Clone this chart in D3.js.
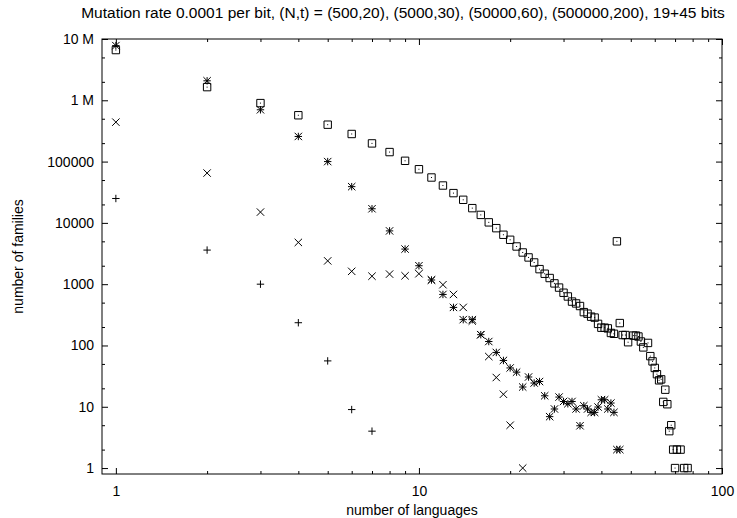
<!DOCTYPE html>
<html>
<head>
<meta charset="utf-8">
<script src="https://cdn.jsdelivr.net/npm/d3@7"></script>
<style>
  html, body { margin: 0; padding: 0; background: #fff; }
  svg text { font-family: "Liberation Sans", Arial, Helvetica, sans-serif; fill: #000; }
</style>
</head>
<body>
<svg id="chart" width="737" height="518"></svg>
<script>
// ---- data ----
const titleText = "Mutation rate 0.0001 per bit, (N,t) = (500,20), (5000,30), (50000,60), (500000,200), 19+45 bits";
const xLabel = "number of languages";
const yLabel = "number of families";

// N = 500 (plus)
const langsA = [1, 2, 3, 4, 5, 6, 7];
const famsA  = [25000, 3600, 1000, 235, 56, 9, 4];

// N = 5000 (cross)
const langsB = [1, 2, 3, 4, 5, 6, 7, 8, 9, 10, 11, 12, 13, 14, 15, 16, 17, 18, 19, 20, 22];
const famsB  = [440000, 65000, 15000, 4800, 2400, 1620, 1350, 1460, 1370, 1480, 1170, 980, 680, 418, 250, 150, 66, 30, 16, 5, 1];

// N = 50000 (star)
const langsC = [1, 2, 3, 4, 5, 6, 7, 8, 9, 10, 11, 12, 13, 14, 15, 16, 17, 18, 19, 20,
                21, 22, 23, 24, 25, 26, 27, 28, 29, 30, 31, 32, 33, 34, 35, 36, 37, 38, 39, 40,
                41, 42, 43, 44, 45, 46];
const famsC  = [7800000, 2080000, 700000, 257000, 100000, 39000, 17000, 7400, 3740, 2000, 1170, 680, 418, 264, 264, 150, 116, 77, 57, 43,
                36.7, 21, 30.6, 24.4, 25.8, 15.1, 6.9, 9.2, 14.4, 12.2, 11.2, 12.2, 9.2, 4.9, 10.4, 9.2, 8.1, 8.1, 9.9, 13,
                13, 9.2, 11.5, 8.1, 2, 2];

// N = 500000 (box)
const langsD = [1, 2, 3, 4, 5, 6, 7, 8, 9, 10, 11, 12, 13, 14, 15, 16, 17, 18, 19, 20,
                21, 22, 23, 24, 25, 26, 27, 28, 29, 30, 31, 32, 33, 34, 35, 36, 37, 38, 39, 40,
                41, 42, 43, 44, 45, 46, 47, 48, 49, 51, 52, 53, 54, 55, 57, 58, 59, 60,
                61, 62, 63, 64, 65, 66, 67, 68, 69, 70, 71, 73, 75, 77];
const famsD  = [6600000, 1640000, 900000, 570000, 400000, 282000, 198000, 143000, 103000, 75000, 55000, 40700, 30600, 23800, 17400, 13500, 10200, 8200, 6400, 5300,
                4120, 3290, 2730, 2260, 1760, 1480, 1260, 1030, 880, 725, 630, 520, 485, 440, 350, 330, 295, 285, 225, 195,
                195, 190, 160, 155, 5000, 232, 148, 148, 113, 145, 145, 140, 116, 93, 110, 67, 55, 43,
                34, 27, 28, 12, 19, 11, 4, 5, 2, 1, 2, 2, 1, 1];

const xMajor = [1, 10, 100];
const xMajorLabels = ["1", "10", "100"];
const yMajor = [1, 10, 100, 1000, 10000, 100000, 1000000, 10000000];
const yMajorLabels = ["1", "10", "100", "1000", "10000", "100000", "1 M", "10 M"];

// ---- layout ----
const L = 102, R = 722, T = 39, B = 474;
const FS = 14;
const svg = d3.select("#chart");

const x = d3.scaleLog().domain([0.9, 100]).range([L, R]);
const y = d3.scaleLog().domain([0.8, 1e7]).range([B, T]);

const xMinor = [];
[1, 10].forEach(d => { for (let k = 2; k <= 9; k++) xMinor.push(d * k); });
const yMinor = [];
[1, 10, 100, 1000, 10000, 100000, 1000000].forEach(d => { yMinor.push(d * 2, d * 5); });

const MAJ = 6, MIN = 3;

function styleAxis(g) {
  g.select(".domain").remove();
  g.selectAll("line").attr("stroke", "#000").attr("stroke-width", 1);
  g.selectAll("text").attr("font-size", FS).attr("font-family", '"Liberation Sans", Arial, Helvetica, sans-serif');
}

// bottom
svg.append("g").attr("transform", `translate(0,${B})`)
  .call(d3.axisBottom(x).tickValues(xMajor).tickFormat((d, i) => xMajorLabels[i]).tickSize(-MAJ).tickPadding(12))
  .call(styleAxis);
svg.append("g").attr("transform", `translate(0,${B})`)
  .call(d3.axisBottom(x).tickValues(xMinor).tickFormat("").tickSize(-MIN))
  .call(styleAxis);
// top mirror
svg.append("g").attr("transform", `translate(0,${T})`)
  .call(d3.axisTop(x).tickValues(xMajor).tickFormat("").tickSize(-MAJ))
  .call(styleAxis);
svg.append("g").attr("transform", `translate(0,${T})`)
  .call(d3.axisTop(x).tickValues(xMinor).tickFormat("").tickSize(-MIN))
  .call(styleAxis);
// left
svg.append("g").attr("transform", `translate(${L},0)`)
  .call(d3.axisLeft(y).tickValues(yMajor).tickFormat((d, i) => yMajorLabels[i]).tickSize(-MAJ).tickPadding(8))
  .call(styleAxis);
svg.append("g").attr("transform", `translate(${L},0)`)
  .call(d3.axisLeft(y).tickValues(yMinor).tickFormat("").tickSize(-MIN))
  .call(styleAxis);
// right mirror
svg.append("g").attr("transform", `translate(${R},0)`)
  .call(d3.axisRight(y).tickValues(yMajor).tickFormat("").tickSize(-MAJ))
  .call(styleAxis);
svg.append("g").attr("transform", `translate(${R},0)`)
  .call(d3.axisRight(y).tickValues(yMinor).tickFormat("").tickSize(-MIN))
  .call(styleAxis);

// border
svg.append("rect").attr("x", L).attr("y", T).attr("width", R - L).attr("height", B - T)
  .attr("fill", "none").attr("stroke", "#000").attr("stroke-width", 1);

// ---- markers ----
const S = 3.7;
const markers = {
  plus:  (px, py) => `M${px - S},${py}H${px + S}M${px},${py - S}V${py + S}`,
  cross: (px, py) => `M${px - S},${py - S}L${px + S},${py + S}M${px - S},${py + S}L${px + S},${py - S}`,
  star:  (px, py) => `M${px - S},${py}H${px + S}M${px},${py - S}V${py + S}M${px - S},${py - S}L${px + S},${py + S}M${px - S},${py + S}L${px + S},${py - S}`,
  box:   (px, py) => `M${px - S},${py - S}H${px + S}V${py + S}H${px - S}Z M${px - 0.5},${py}H${px + 0.5}`
};

const series = [
  { xs: langsA, ys: famsA, m: "plus" },
  { xs: langsB, ys: famsB, m: "cross" },
  { xs: langsC, ys: famsC, m: "star" },
  { xs: langsD, ys: famsD, m: "box" }
];

series.forEach(s => {
  const pts = s.xs.map((v, i) => [v, s.ys[i]]);
  svg.append("g").selectAll("path").data(pts).join("path")
    .attr("d", d => markers[s.m](x(d[0]), y(d[1])))
    .attr("fill", "none").attr("stroke", "#000").attr("stroke-width", 1);
});

// ---- titles ----
svg.append("text").attr("x", 403).attr("y", 18).attr("text-anchor", "middle")
  .attr("font-size", 15.5).text(titleText);
svg.append("text").attr("x", (L + R) / 2).attr("y", 515).attr("text-anchor", "middle")
  .attr("font-size", FS).text(xLabel);
svg.append("text").attr("transform", `translate(23,${(T + B) / 2}) rotate(-90)`)
  .attr("text-anchor", "middle").attr("font-size", FS).text(yLabel);
</script>
</body>
</html>
